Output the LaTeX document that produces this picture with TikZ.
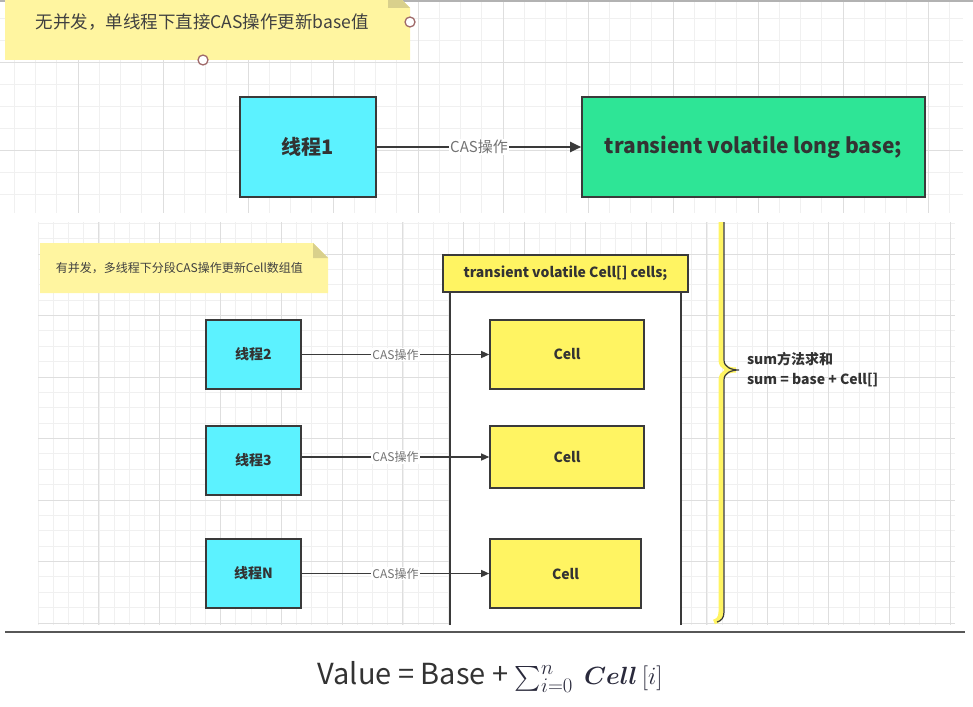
\documentclass[tikz,border=0pt]{standalone}
\usepackage{amsmath}
\usepackage{fontspec}
\setmainfont{Noto Sans CJK SC}
\usetikzlibrary{arrows.meta, positioning}
\definecolor{ccyan}{HTML}{5CF2FF}
\definecolor{cgreen}{HTML}{2EE596}
\definecolor{cyellow}{HTML}{FFF462}
\definecolor{cnote}{HTML}{FFF5A0}
\definecolor{cfold}{HTML}{D9D08C}
\definecolor{cline}{HTML}{3A3A3A}
\definecolor{ctext}{HTML}{333333}
\definecolor{cmath}{HTML}{2A2A3C}
\definecolor{chandle}{HTML}{A06A6A}
\newcommand{\fs}[2]{\fontsize{#1}{#2}\selectfont}
\tikzset{
  every picture/.style={line width=1.5pt},
  box/.style={draw=cline, fill=#1, line width=1.6pt, align=center, inner sep=0pt, text=ctext},
  box/.default=ccyan,
  arrow/.style={-{Triangle[length=8pt, width=7pt]}, draw=cline, line width=1.3pt},
  cas/.style={fill=white, inner sep=1pt, text=black!55, font=\fs{12}{14}},
  notetext/.style={anchor=west, text=black!75, inner sep=0pt},
  minorgrid/.style={draw=black!6, line width=0.6pt},
  majorgrid/.style={draw=black!13, line width=0.9pt},
}

\begin{document}
\begin{tikzpicture}[x=1pt, y=-1pt]
  \useasboundingbox (0,0) rectangle (973,706);
  % top panel grid
  \foreach \x in {-7,14.25,...,963} \draw[minorgrid] (\x,0) -- (\x,213);
  \foreach \y in {18,40,...,213} \draw[minorgrid] (0,\y) -- (963,\y);
  \foreach \x in {78,163,...,963} \draw[majorgrid] (\x,0) -- (\x,213);
  \foreach \y in {62,150} \draw[majorgrid] (0,\y) -- (963,\y);
  % bottom panel grid
  \foreach \x in {38,53.2,...,955} \draw[minorgrid] (\x,222) -- (\x,625);
  \foreach \y in {223.1,238.475,...,625} \draw[minorgrid] (38,\y) -- (955,\y);
  \foreach \x in {98.8,159.6,...,955} \draw[majorgrid] (\x,222) -- (\x,625);
  \foreach \y in {254,315.5,...,625} \draw[majorgrid] (38,\y) -- (955,\y);
  \draw[gray!60, line width=1.5pt] (0,1) -- (973,1);

  % single thread
  \fill[cnote] (5,-14) -- (388,-14) -- (410,8) -- (410,60) -- (5,60) -- cycle;
  \fill[cfold] (388,-14) -- (388,8) -- (410,8) -- cycle;
  \node[notetext, font=\fs{17.5}{20}] (note1) at (35,22) {无并发，单线程下直接CAS操作更新base值};
  \draw[chandle, fill=white, line width=1.3pt] (410,22) circle (5);
  \draw[chandle, fill=white, line width=1.3pt] (203,60) circle (5);
  \node[box=ccyan, minimum width=136, minimum height=100, font=\fs{20}{24}\bfseries] (t1) at (308,147) {线程1};
  \node[box=cgreen, minimum width=343, minimum height=100, font=\fs{21}{25}\bfseries] (base) at (753.5,147) {transient volatile long base;};
  \draw[arrow, line width=2pt, -{Triangle[length=11pt, width=10pt]}] (t1) -- node[cas, font=\fs{15}{18}] {CAS操作} (base);

  % many threads
  \fill[cnote] (40,243) -- (313,243) -- (328,258) -- (328,293) -- (40,293) -- cycle;
  \fill[cfold] (313,243) -- (313,258) -- (328,258) -- cycle;
  \node[notetext, font=\fs{12}{14}] (note2) at (55,268) {有并发，多线程下分段CAS操作更新Cell数组值};
  \fill[white] (450,292) rectangle (681,625);
  \node[box=cyellow, minimum width=245, minimum height=37, font=\fs{14}{17}\bfseries] (cells) at (565.5,273.5) {transient volatile Cell[] cells;};
  \coordinate (bodyl) at (450,625);
  \coordinate (bodyr) at (681,625);
  \draw[cline, line width=1.6pt] (bodyl) -- (bodyl |- cells.south);
  \draw[cline, line width=1.6pt] (bodyr) -- (bodyr |- cells.south);
  \node[box=ccyan, minimum width=95, minimum height=69, font=\fs{14}{17}\bfseries] (t2) at (253.5,354.5) {线程2};
  \node[box=ccyan, minimum width=95, minimum height=69, font=\fs{14}{17}\bfseries] (t3) at (253.5,460.5) {线程3};
  \node[box=ccyan, minimum width=95, minimum height=69, font=\fs{14}{17}\bfseries] (tn) at (253.5,573.5) {线程N};
  \node[box=cyellow, minimum width=154, minimum height=69, font=\fs{14}{17}\bfseries] (c1) at (567,354.5) {Cell};
  \node[box=cyellow, minimum width=154, minimum height=62, font=\fs{14}{17}\bfseries] (c2) at (567,457) {Cell};
  \node[box=cyellow, minimum width=151, minimum height=69, font=\fs{14}{17}\bfseries] (c3) at (565.5,573.5) {Cell};
  \draw[arrow] (t2) -- node[cas] {CAS操作} (c1);
  \draw[arrow] (t3.east |- c2) -- node[cas] {CAS操作} (c2);
  \draw[arrow] (tn) -- node[cas] {CAS操作} (c3);

  % sum brace
  \coordinate (bracetip) at (736,370);
  \draw[cyellow, line width=5pt] (721,222) -- (721,360) .. controls (721,367) and (728,370) .. (bracetip) .. controls (728,370) and (721,373) .. (721,380) -- (721,612) .. controls (721,618) and (718,621) .. (714,622);
  \draw[cline, line width=1.2pt, xshift=3pt] (721,222) -- (721,360) .. controls (721,367) and (728,370) .. (736,370) .. controls (728,370) and (721,373) .. (721,380) -- (721,612) .. controls (721,618) and (718,621) .. (714,622);
  \node[anchor=west, align=left, text=ctext, font=\fs{14}{20}\bfseries] (sumtxt) at (743,370) {sum方法求和\\sum = base + Cell[]};

  % formula
  \draw[cline!85, line width=1.6pt] (5,632) -- (965,632);
  \node[text=ctext, font=\fs{29}{34}] (formula) at (490,677) {Value = Base + \textcolor{cmath}{$\sum_{i=0}^{n}\;\boldsymbol{Cell}\,[i]$}};
\end{tikzpicture}
\end{document}
